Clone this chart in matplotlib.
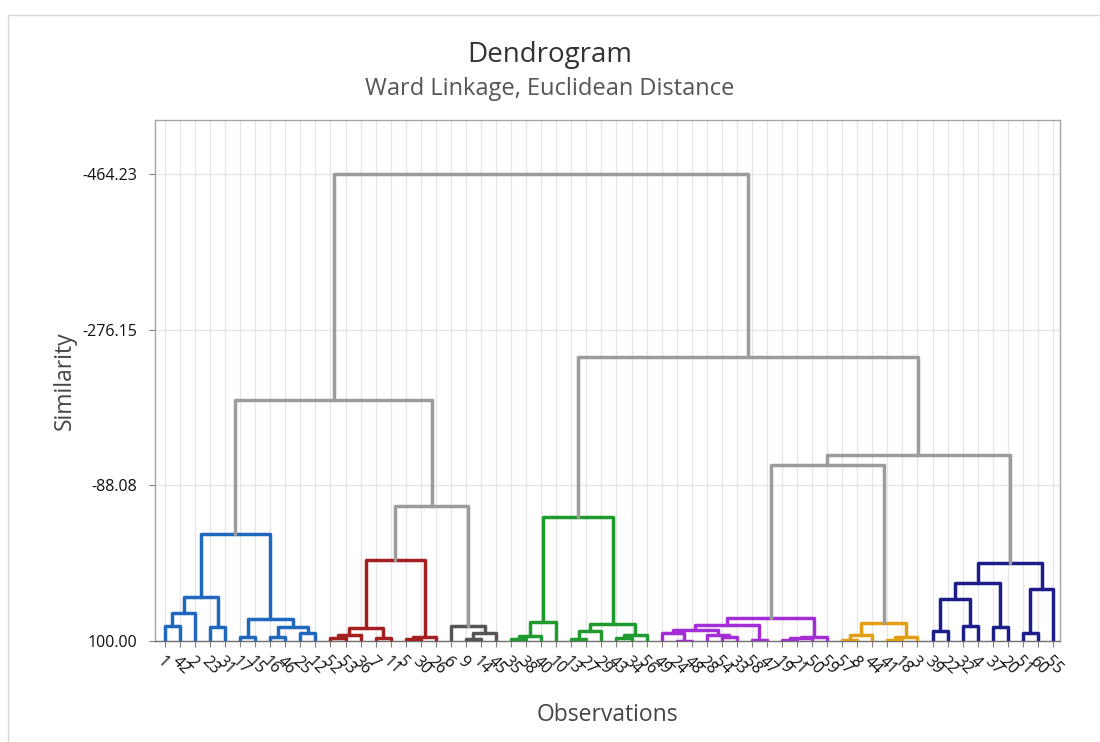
import matplotlib
matplotlib.use("Agg")
import matplotlib.pyplot as plt
from matplotlib.patches import Rectangle

plt.rcParams['font.family'] = ['Open Sans', 'DejaVu Sans']

# ---------------- data ----------------
leaf_labels = [1, 42, 2, 23, 31, 17, 15, 16, 46, 25, 12,
               52, 53, 36, 7, 11, 5, 30, 26,
               6, 9, 14, 45,
               35, 38, 40, 10, 13, 27, 29, 43, 34, 56,
               49, 24, 48, 28, 54, 33, 58, 47, 19, 21, 50, 59,
               57, 8, 44, 41, 18, 3,
               39, 22, 32, 4, 37, 20, 51, 60, 55]

# scipy-style merges: leaves are 0..59, merge k creates node 60+k
merge_left = [0, 60, 3, 61, 5, 7, 9, 65, 64, 63,
              11, 70, 14, 71, 16, 74, 73,
              20, 77, 19, 76, 69,
              23, 82, 83, 27, 85, 30, 87, 86, 84,
              34, 33, 37, 36, 92, 39, 95, 41, 98, 99, 97,
              45, 102, 48, 104, 103, 101,
              51, 53, 108, 55, 110, 57, 113, 112, 107, 90, 81]
merge_right = [1, 2, 4, 62, 6, 8, 10, 66, 67, 68,
               12, 13, 15, 72, 17, 18, 75,
               21, 22, 78, 79, 80,
               24, 25, 26, 28, 29, 31, 32, 88, 89,
               35, 91, 38, 93, 94, 40, 96, 42, 43, 44, 100,
               46, 47, 49, 50, 105, 106,
               52, 54, 109, 56, 111, 58, 59, 114, 115, 116, 117]
merge_similarity = [81.9, 65.8, 83.4, 47.2, 94.8, 94.8, 90.7, 83.4, 73.8, -29.3,
                    96.4, 92.8, 96.7, 84.3, 97.9, 94.8, 2.1,
                    97.9, 90.7, 81.9, -63.1, -191.2,
                    97.9, 94.0, 76.7, 97.9, 87.9, 96.4, 92.8, 79.5, -50.2,
                    99.4, 90.7, 94.8, 92.8, 86.7, 98.8, 80.7, 98.8, 96.7, 94.8, 72.6,
                    98.8, 92.8, 98.8, 95.5, 78.6, -112.6,
                    87.6, 81.9, 49.6, 82.7, 30.3, 90.7, 37.5, 5.4, -124.7, -243.1, -464.23]

cluster_sizes = [11, 8, 4, 10, 12, 6, 9]
cluster_colors = ['#1F68BE', '#A41F1F', '#555555', '#1E9A2E', '#A42ED6', '#E39E14', '#1D1D8A']
link_color = '#9C9C9C'

y_ticks = [100.00, -88.08, -276.15, -464.23]
y_tick_labels = ['100.00', '-88.08', '-276.15', '-464.23']

# ---------------- figure ----------------
W, H = 1100, 742
fig = plt.figure(figsize=(W / 100, H / 100), dpi=100)
fig.patch.set_facecolor('white')

# outer panel border
fig.patches.append(Rectangle((8 / W, -0.05), 1.2, (H - 15) / H + 0.05, transform=fig.transFigure,
                             fill=False, edgecolor='#D8D8D8', lw=1.0))

ax = fig.add_axes([155 / W, (H - 641) / H, 905 / W, 521 / H])

n = len(leaf_labels)
leaf_cluster = []
for ci, s in enumerate(cluster_sizes):
    leaf_cluster += [ci] * s

node_x = {i: float(i) for i in range(n)}
node_y = {i: 100.0 for i in range(n)}
node_cl = {i: leaf_cluster[i] for i in range(n)}

for k, (a, b, s) in enumerate(zip(merge_left, merge_right, merge_similarity)):
    nid = n + k
    node_x[nid] = (node_x[a] + node_x[b]) / 2
    node_y[nid] = s
    ca, cb = node_cl[a], node_cl[b]
    node_cl[nid] = ca if (ca == cb and ca is not None) else None
    col = cluster_colors[node_cl[nid]] if node_cl[nid] is not None else link_color
    ax.plot([node_x[a], node_x[a], node_x[b], node_x[b]],
            [node_y[a], s, s, node_y[b]],
            color=col, lw=2.5, solid_joinstyle='round', solid_capstyle='round', zorder=3)

ax.set_xlim(-0.66, 59.47)
ax.set_ylim(100, -529.5)

ax.set_xticks(range(n))
ax.set_xticklabels([str(v) for v in leaf_labels], rotation=-45, ha='left', va='top',
                   rotation_mode='anchor', fontsize=11.5, color='#111111')
ax.set_yticks(y_ticks)
ax.set_yticklabels(y_tick_labels, fontsize=11.5, color='#111111')
ax.tick_params(axis='both', direction='out', length=4, color='#808080', pad=3)
ax.tick_params(axis='y', pad=9)
ax.tick_params(axis='x', pad=5)

ax.grid(True, color='#E6E6E6', lw=1.0, zorder=0)
ax.set_axisbelow(True)
for side, sp in ax.spines.items():
    sp.set_color('#A6A6A6')
    sp.set_linewidth(1.0)
ax.spines['bottom'].set_color('#707070')

ax.set_ylabel('Similarity', fontsize=16.5, color='#444444', labelpad=4)
ax.set_xlabel('Observations', fontsize=16.5, color='#444444', labelpad=18)

fig.text(0.5, (H - 55) / H, 'Dendrogram', ha='center', va='center', fontsize=20, color='#333333')
fig.text(0.5, (H - 89) / H, 'Ward Linkage, Euclidean Distance', ha='center', va='center',
         fontsize=17, color='#555555')

fig.savefig('out.png', dpi=100, facecolor='white')
